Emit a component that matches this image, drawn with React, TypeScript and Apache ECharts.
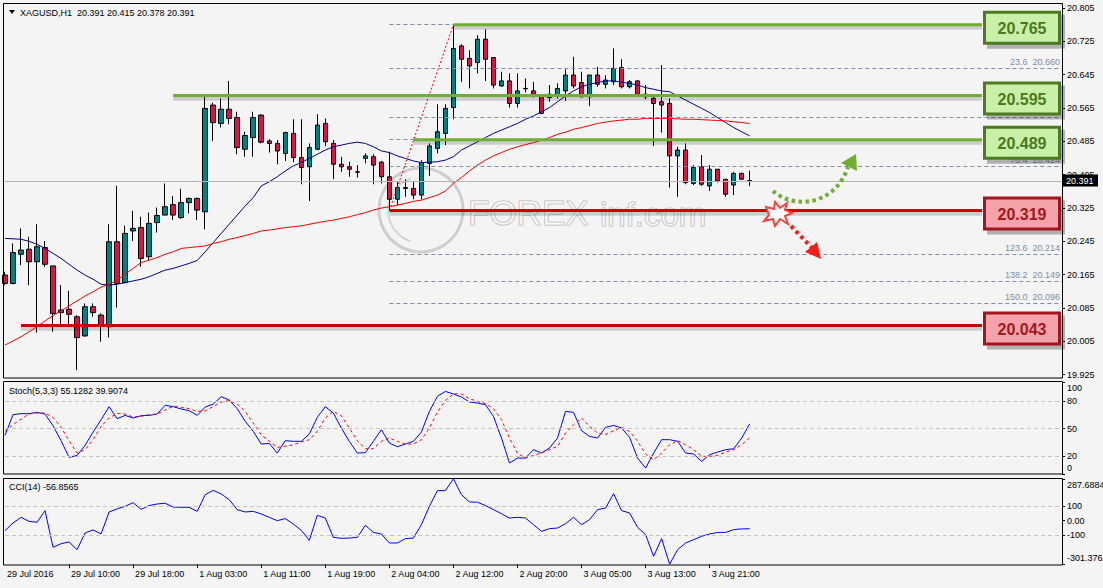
import React, { useEffect, useRef } from "react";
import * as echarts from "echarts";

// ---------- DATA ----------
const SYMBOL = "XAGUSD,H1";
const OPEN = [20.164,20.144,20.214,20.226,20.196,20.230,20.186,20.074,20.082,20.064,20.018,20.088,20.068,20.040,20.244,20.146,20.270,20.278,20.208,20.290,20.308,20.333,20.302,20.338,20.348,20.316,20.572,20.528,20.562,20.542,20.466,20.494,20.548,20.486,20.480,20.456,20.504,20.446,20.424,20.466,20.528,20.480,20.430,20.424,20.412,20.444,20.448,20.435,20.400,20.346,20.372,20.372,20.356,20.432,20.468,20.504,20.566,20.714,20.684,20.674,20.730,20.686,20.618,20.630,20.576,20.612,20.606,20.596,20.590,20.596,20.606,20.644,20.626,20.592,20.644,20.622,20.628,20.662,20.616,20.630,20.598,20.588,20.580,20.576,20.450,20.464,20.384,20.424,20.378,20.418,20.394,20.380,20.408,20.391];
const CLOSE = [20.144,20.218,20.224,20.196,20.232,20.190,20.072,20.080,20.070,20.014,20.088,20.074,20.042,20.244,20.144,20.264,20.276,20.204,20.288,20.307,20.328,20.308,20.338,20.348,20.320,20.564,20.530,20.562,20.540,20.470,20.499,20.542,20.483,20.480,20.462,20.506,20.446,20.422,20.470,20.524,20.484,20.430,20.424,20.418,20.411,20.450,20.428,20.400,20.346,20.374,20.374,20.356,20.434,20.474,20.508,20.564,20.708,20.682,20.666,20.730,20.682,20.620,20.630,20.576,20.606,20.611,20.598,20.552,20.598,20.612,20.644,20.618,20.592,20.644,20.622,20.632,20.660,20.616,20.628,20.598,20.592,20.576,20.572,20.450,20.464,20.386,20.422,20.382,20.418,20.390,20.358,20.408,20.394,20.391];
const LOW = [20.140,20.142,20.188,20.140,20.026,20.184,20.028,20.044,20.040,19.936,20.016,20.064,20.004,20.014,20.086,20.144,20.246,20.184,20.200,20.266,20.308,20.296,20.299,20.312,20.296,20.274,20.486,20.518,20.526,20.454,20.448,20.448,20.480,20.458,20.430,20.438,20.435,20.382,20.342,20.464,20.474,20.394,20.412,20.400,20.398,20.432,20.382,20.384,20.319,20.332,20.352,20.346,20.346,20.402,20.456,20.476,20.538,20.628,20.612,20.648,20.630,20.612,20.616,20.566,20.566,20.602,20.590,20.550,20.580,20.588,20.582,20.612,20.590,20.570,20.616,20.612,20.620,20.612,20.612,20.598,20.586,20.474,20.506,20.374,20.352,20.382,20.380,20.378,20.366,20.386,20.352,20.356,20.394,20.378];
const HIGH = [20.172,20.240,20.276,20.256,20.286,20.246,20.186,20.140,20.126,20.068,20.096,20.096,20.072,20.286,20.378,20.283,20.318,20.304,20.314,20.326,20.384,20.354,20.371,20.350,20.350,20.598,20.578,20.588,20.630,20.556,20.508,20.556,20.550,20.490,20.488,20.508,20.538,20.538,20.480,20.550,20.540,20.488,20.448,20.436,20.428,20.456,20.454,20.438,20.460,20.390,20.394,20.388,20.440,20.480,20.574,20.574,20.765,20.718,20.704,20.740,20.754,20.686,20.652,20.648,20.648,20.636,20.628,20.598,20.620,20.624,20.658,20.688,20.652,20.644,20.664,20.644,20.708,20.682,20.632,20.632,20.620,20.598,20.668,20.588,20.472,20.480,20.428,20.452,20.428,20.418,20.394,20.412,20.410,20.415];
const MA_FAST = [20.252,20.251,20.250,20.245,20.238,20.228,20.216,20.204,20.190,20.176,20.164,20.154,20.142,20.140,20.142,20.146,20.150,20.154,20.160,20.168,20.176,20.180,20.186,20.192,20.199,20.220,20.242,20.264,20.286,20.308,20.330,20.350,20.378,20.388,20.400,20.414,20.426,20.434,20.444,20.454,20.464,20.472,20.476,20.480,20.483,20.480,20.472,20.462,20.458,20.450,20.444,20.438,20.434,20.435,20.436,20.440,20.448,20.464,20.474,20.484,20.494,20.504,20.512,20.520,20.528,20.538,20.546,20.556,20.566,20.580,20.594,20.606,20.616,20.622,20.626,20.630,20.630,20.627,20.624,20.620,20.614,20.610,20.606,20.604,20.594,20.584,20.574,20.564,20.554,20.542,20.530,20.518,20.508,20.498];
const MA_SLOW = [19.996,20.006,20.016,20.028,20.040,20.054,20.067,20.078,20.090,20.102,20.114,20.124,20.135,20.142,20.152,20.166,20.180,20.194,20.200,20.206,20.214,20.220,20.228,20.230,20.232,20.234,20.240,20.244,20.250,20.254,20.259,20.264,20.270,20.272,20.275,20.278,20.280,20.282,20.286,20.290,20.293,20.296,20.300,20.304,20.309,20.314,20.320,20.325,20.328,20.332,20.336,20.341,20.344,20.350,20.356,20.366,20.384,20.398,20.414,20.428,20.440,20.450,20.458,20.466,20.472,20.477,20.482,20.488,20.494,20.502,20.507,20.514,20.518,20.523,20.528,20.531,20.534,20.536,20.538,20.538,20.540,20.540,20.540,20.540,20.539,20.538,20.538,20.537,20.536,20.535,20.534,20.532,20.530,20.528];
const STOCH_MAIN = [42.5,65.1,66.2,66.2,67.6,65.8,53.0,36.7,18.5,20.6,31.6,46.1,59.6,73.8,60.7,64.3,61.4,64.0,64.3,65.8,75.3,73.8,71.3,69.4,64.3,73.4,76.7,84.7,81.1,71.6,57.8,46.9,33.0,33.8,23.2,36.7,36.0,36.0,43.9,62.1,73.8,66.9,50.5,36.0,23.2,23.6,36.0,48.7,34.1,30.1,33.0,36.0,46.1,68.7,85.1,90.5,87.6,84.4,78.9,77.8,76.0,63.2,39.6,12.3,17.7,17.7,26.9,23.2,28.7,39.6,68.7,67.6,47.6,41.4,39.6,51.2,53.4,50.5,40.3,17.7,6.8,23.2,37.8,37.8,36.0,23.2,22.1,14.1,21.4,24.3,26.9,27.9,39.6,55.1282];
const STOCH_SIGNAL = [46.9,54.1,60.3,65.8,66.9,66.9,62.1,51.2,36.7,23.2,26.9,37.8,52.3,61.4,66.5,65.8,62.5,63.2,65.1,65.8,70.2,74.2,73.1,71.6,68.7,69.4,73.8,78.9,80.4,76.7,68.7,56.0,43.2,36.0,29.4,30.5,32.3,35.2,37.8,46.9,61.4,68.7,64.0,50.5,36.7,27.9,27.9,36.0,39.6,36.0,33.0,33.0,37.8,50.5,68.0,80.4,88.0,87.6,82.5,79.6,77.1,71.6,59.6,39.6,22.8,17.7,20.6,23.2,26.9,30.5,45.0,54.1,61.4,52.3,45.0,43.2,47.6,51.2,46.9,36.0,22.1,15.9,23.2,32.3,36.7,32.3,26.9,19.6,19.6,20.6,24.3,26.9,32.3,39.9074];
const CCI = [-70,-17,22,-6,-12,68,-185,-160,-148,-201,-86,-65,-93,59,80,98,123,77,103,114,119,93,91,91,63,178,208,183,144,75,59,63,45,22,-1,13,-24,-68,-137,36,17,-116,-123,-121,-116,-33,-82,-93,-155,-155,-125,-121,-29,98,206,206,287.688,178,128,126,103,75,47,17,22,17,-29,-75,-56,-52,-22,22,-29,6,75,86,185,68,52,-47,-98,-247,-125,-301.376,-201,-155,-132,-109,-93,-82,-82,-63,-58,-56.8565];

const TIME_TICKS = ["29 Jul 2016","29 Jul 10:00","29 Jul 18:00","1 Aug 03:00","1 Aug 11:00","1 Aug 19:00","2 Aug 04:00","2 Aug 12:00","2 Aug 20:00","3 Aug 05:00","3 Aug 13:00","3 Aug 21:00"];
const BARS_PER_TICK = 8;
const SLOTS = 133; // bar slots visible across the chart width
const PRICE_TICKS = [20.805,20.725,20.645,20.565,20.485,20.405,20.325,20.245,20.165,20.085,20.005,19.925];
const PRICE_MIN = 19.917;
const PRICE_MAX = 20.817;
const STOCH_LEVELS = [80, 50, 20];
const STOCH_TICKS = [100, 80, 50, 20, 0];
const CCI_LEVELS = [100, -100];
const CCI_MIN = -301.376;
const CCI_MAX = 287.688;
const CCI_TICKS = [287.688, 100, 0, -100, -301.376];

const LEVEL_PRICES = [20.765, 20.595, 20.489, 20.319, 20.043];
const LEVEL_KIND = ["res", "res", "res", "sup", "sup"];
const LEVEL_START_BAR = [56, 21, 51, 48, 2];
const LEVEL_END_BAR = 122;

const FIB_HIGH = 20.765;
const FIB_LOW = 20.319;
const FIB_HIGH_BAR = 56;
const FIB_LOW_BAR = 48;
const FIB_RATIOS = [0, 23.6, 38.2, 50, 61.8, 76.4, 100, 123.6, 138.2, 150];
// ratios whose labels are hidden behind the level boxes in the reference
const FIB_HIDDEN_LABELS = [0, 38.2, 61.8, 100];

const STOCH_TITLE = "Stoch(5,3,3) 55.1282 39.9074";
const CCI_TITLE = "CCI(14) -56.8565";

// ---------- STYLE ----------
const FONT = '"Liberation Sans", Arial, sans-serif';
const GREEN = "#6fae32";
const RED = "#cc0000";
const FIB_COLOR = "#7f8ea6";
const SHADOW_SHIFT = 0.0075; // price units, ~3px

export default function App() {
  const ref = useRef<HTMLDivElement>(null);

  useEffect(() => {
    const el = ref.current;
    if (!el) return;
    const chart = echarts.init(el, null, { renderer: "svg" });

    const cats = Array.from({ length: SLOTS }, (_, i) => String(i));
    const candles = OPEN.map((o, i) => [o, CLOSE[i], LOW[i], HIGH[i]]);
    const last = OPEN.length - 1;
    const lastClose = CLOSE[last];

    const fibLines = FIB_RATIOS.map((r) => {
      const p = FIB_HIGH - (r / 100) * (FIB_HIGH - FIB_LOW);
      const showLabel = FIB_HIDDEN_LABELS.indexOf(r) < 0;
      return [
        {
          coord: [FIB_LOW_BAR, p],
          lineStyle: { color: FIB_COLOR, type: [4, 3], width: 1 },
          label: {
            show: showLabel,
            position: "insideEndTop",
            formatter: r.toFixed(1) + "  " + p.toFixed(3),
            color: FIB_COLOR,
            fontSize: 9,
            fontFamily: FONT,
            distance: 2,
          },
        },
        { coord: [SLOTS - 1, p] },
      ];
    });

    const gridBase = { left: 5, width: 1057, outerBoundsMode: "none", containLabel: false };
    const hiddenX = (gi: number) => ({
      type: "category",
      gridIndex: gi,
      data: cats,
      boundaryGap: false,
      show: false,
      axisLine: { onZero: false },
    });

    const axisLabelBase = { fontSize: 9, fontFamily: FONT, color: "#000" };

    const levelSeries: any[] = [];
    LEVEL_PRICES.forEach((p, k) => {
      const data = [
        [LEVEL_START_BAR[k], p],
        [LEVEL_END_BAR, p],
      ];
      // soft drop shadow under the level line
      levelSeries.push({
        type: "line",
        xAxisIndex: 0,
        yAxisIndex: 0,
        data: data.map((d) => [d[0], d[1] - SHADOW_SHIFT]),
        symbol: "none",
        silent: true,
        z: 4,
        lineStyle: { color: "rgba(0,0,0,0.16)", width: 4 },
      });
      levelSeries.push({
        type: "line",
        xAxisIndex: 0,
        yAxisIndex: 0,
        data,
        symbol: "none",
        silent: true,
        z: 5,
        lineStyle: { color: LEVEL_KIND[k] === "res" ? GREEN : RED, width: 3 },
      });
    });

    const option: any = {
      animation: false,
      backgroundColor: "#f4f4f4",
      grid: [
        { ...gridBase, top: 3, height: 375 },
        { ...gridBase, top: 382.7, height: 91.6 },
        { ...gridBase, top: 478.8, height: 85.4 },
      ],
      xAxis: [
        hiddenX(0),
        hiddenX(1),
        {
          type: "category",
          gridIndex: 2,
          data: cats,
          boundaryGap: false,
          position: "bottom",
          axisLine: { show: false, onZero: false },
          splitLine: { show: false },
          axisTick: {
            show: true,
            length: 4,
            lineStyle: { color: "#000" },
            interval: (idx: number) => idx > 0 && idx % BARS_PER_TICK === 0 && idx / BARS_PER_TICK < TIME_TICKS.length,
          },
          axisLabel: {
            ...axisLabelBase,
            align: "left",
            margin: 5,
            padding: [0, 0, 0, 2],
            interval: (idx: number) => idx % BARS_PER_TICK === 0 && idx / BARS_PER_TICK < TIME_TICKS.length,
            formatter: (v: string) => TIME_TICKS[Number(v) / BARS_PER_TICK] || "",
          },
        },
      ],
      yAxis: [
        {
          type: "value",
          gridIndex: 0,
          position: "right",
          min: PRICE_MIN,
          max: PRICE_MAX,
          axisLine: { show: false },
          splitLine: { show: false },
          axisTick: { show: true, length: 3, customValues: PRICE_TICKS, lineStyle: { color: "#000" } },
          axisLabel: { ...axisLabelBase, margin: 5, customValues: PRICE_TICKS, formatter: (v: number) => v.toFixed(3) },
        },
        {
          type: "value",
          gridIndex: 1,
          position: "right",
          min: 0,
          max: 100,
          axisLine: { show: false },
          splitLine: { show: false },
          axisTick: { show: true, length: 3, customValues: STOCH_TICKS, lineStyle: { color: "#000" } },
          axisLabel: {
            ...axisLabelBase,
            margin: 5,
            customValues: [94.2, 80, 50, 20, 6.9],
            formatter: (v: number) => (v > 90 ? "100" : v < 10 ? "0" : String(Math.round(v))),
          },
        },
        {
          type: "value",
          gridIndex: 2,
          position: "right",
          min: CCI_MIN,
          max: CCI_MAX,
          axisLine: { show: false },
          splitLine: { show: false },
          axisTick: { show: true, length: 3, customValues: CCI_TICKS, lineStyle: { color: "#000" } },
          axisLabel: {
            ...axisLabelBase,
            margin: 5,
            customValues: [245, 100, 0, -100, -259],
            formatter: (v: number) =>
              v > 200 ? "287.6884" : v < -200 ? "-301.376" : v === 0 ? "0.00" : String(Math.round(v)),
          },
        },
      ],
      series: [
        {
          type: "candlestick",
          xAxisIndex: 0,
          yAxisIndex: 0,
          data: candles,
          barWidth: 5,
          z: 3,
          itemStyle: {
            color: "#008080",
            color0: "#dc143c",
            borderColor: "#000",
            borderColor0: "#000",
            borderWidth: 1,
          },
          markLine: {
            silent: true,
            symbol: ["none", "none"],
            label: { show: false },
            data: [
              { yAxis: lastClose, lineStyle: { color: "#b4b4b4", type: "solid", width: 1 }, label: { show: false } },
              ...fibLines,
              [
                { coord: [FIB_LOW_BAR, FIB_LOW], lineStyle: { color: "#ff0000", type: [2, 2], width: 1 }, label: { show: false } },
                { coord: [FIB_HIGH_BAR, FIB_HIGH] },
              ],
            ],
          },
        },
        {
          type: "line",
          xAxisIndex: 0,
          yAxisIndex: 0,
          data: MA_FAST,
          showSymbol: false,
          symbol: "none",
          z: 4,
          lineStyle: { color: "#000080", width: 1 },
        },
        {
          type: "line",
          xAxisIndex: 0,
          yAxisIndex: 0,
          data: MA_SLOW,
          showSymbol: false,
          symbol: "none",
          z: 4,
          lineStyle: { color: "#ff0000", width: 1 },
        },
        ...levelSeries,
        {
          type: "line",
          xAxisIndex: 1,
          yAxisIndex: 1,
          data: STOCH_MAIN,
          symbol: "none",
          lineStyle: { color: "#0000ff", width: 1 },
          z: 4,
          markLine: {
            silent: true,
            symbol: ["none", "none"],
            label: { show: false },
            lineStyle: { color: "#c4c4c4", type: [4, 3], width: 1 },
            data: STOCH_LEVELS.map((v) => ({ yAxis: v })),
          },
        },
        {
          type: "line",
          xAxisIndex: 1,
          yAxisIndex: 1,
          data: STOCH_SIGNAL,
          symbol: "none",
          z: 4,
          lineStyle: { color: "#ff0000", width: 1, type: [3, 3] },
        },
        {
          type: "line",
          xAxisIndex: 2,
          yAxisIndex: 2,
          data: CCI,
          symbol: "none",
          z: 4,
          lineStyle: { color: "#0000ff", width: 1 },
          markLine: {
            silent: true,
            symbol: ["none", "none"],
            label: { show: false },
            lineStyle: { color: "#c4c4c4", type: [4, 3], width: 1 },
            data: CCI_LEVELS.map((v) => ({ yAxis: v })),
          },
        },
      ],
    };

    chart.setOption(option);

    const py = (p: number) => (chart.convertToPixel({ gridIndex: 0 } as any, [0, p]) as number[])[1];

    const boxes = LEVEL_PRICES.map((p, k) => {
      const res = LEVEL_KIND[k] === "res";
      const y = py(p) - 14;
      return {
        type: "group",
        x: 983,
        y,
        z: 100,
        children: [
          {
            type: "rect",
            z: 99,
            shape: { x: 4, y: 4, width: 78, height: 34 },
            style: { fill: "rgba(0,0,0,0.28)" },
          },
          {
            type: "rect",
            z: 100,
            shape: { x: 1.5, y: 1.5, width: 75, height: 31 },
            style: {
              fill: res ? "#c9efa9" : "#f4a3aa",
              stroke: res ? "#4b7a1f" : "#a3151f",
              lineWidth: 3,
            },
          },
          {
            type: "text",
            z: 101,
            x: 39,
            y: 17.5,
            style: {
              text: p.toFixed(3),
              fontSize: 16,
              fontWeight: "bold",
              fontFamily: FONT,
              fill: res ? "#4a7a1e" : "#a01820",
              align: "center",
              verticalAlign: "middle",
            },
          },
        ],
      };
    });

    const tagY = py(lastClose);
    const frameStyle = { fill: "none", stroke: "#000", lineWidth: 1 };

    const graphic: any[] = [
      // watermark
      {
        type: "circle",
        z: 1,
        shape: { cx: 421, cy: 210, r: 42 },
        style: { fill: "none", stroke: "rgba(190,190,190,0.7)", lineWidth: 3 },
      },
      {
        type: "arc",
        z: 1,
        shape: { cx: 421, cy: 210, r: 33, startAngle: Math.PI * 0.6, endAngle: Math.PI * 1.4 },
        style: { fill: "none", stroke: "rgba(200,200,200,0.7)", lineWidth: 2 },
      },
      {
        type: "text",
        z: 1,
        x: 468,
        y: 212,
        style: {
          text: "FOREX",
          fontSize: 35,
          fontFamily: FONT,
          fill: "rgba(255,255,255,0.55)",
          stroke: "rgba(170,170,170,0.8)",
          lineWidth: 1.2,
          verticalAlign: "middle",
        },
      },
      {
        type: "text",
        z: 1,
        x: 600,
        y: 214,
        style: {
          text: "inf.com",
          fontSize: 33,
          fontFamily: FONT,
          fill: "rgba(255,255,255,0.55)",
          stroke: "rgba(170,170,170,0.8)",
          lineWidth: 1.2,
          verticalAlign: "middle",
        },
      },
      // frames
      { type: "rect", z: 50, shape: { x: 3.5, y: 3.5, width: 1059, height: 374.5 }, style: frameStyle },
      { type: "rect", z: 50, shape: { x: 3.5, y: 381.5, width: 1059, height: 92.5 }, style: frameStyle },
      { type: "rect", z: 50, shape: { x: 3.5, y: 478.5, width: 1059, height: 86.5 }, style: frameStyle },
      // headers
      { type: "polygon", z: 60, shape: { points: [[9, 10], [15, 10], [12, 14]] }, style: { fill: "#000" } },
      {
        type: "text",
        z: 60,
        x: 20,
        y: 12.5,
        style: {
          text: `${SYMBOL}  ${OPEN[last].toFixed(3)} ${HIGH[last].toFixed(3)} ${LOW[last].toFixed(3)} ${CLOSE[last].toFixed(3)}`,
          fontSize: 9,
          fontFamily: FONT,
          fill: "#000",
          verticalAlign: "middle",
        },
      },
      {
        type: "text",
        z: 60,
        x: 9,
        y: 391,
        style: { text: STOCH_TITLE, fontSize: 9, fontFamily: FONT, fill: "#000", verticalAlign: "middle" },
      },
      {
        type: "text",
        z: 60,
        x: 9,
        y: 487,
        style: { text: CCI_TITLE, fontSize: 9, fontFamily: FONT, fill: "#000", verticalAlign: "middle" },
      },
      // current price tag
      {
        type: "rect",
        z: 110,
        shape: { x: 1063, y: tagY - 6, width: 35, height: 12 },
        style: { fill: "#000" },
      },
      {
        type: "text",
        z: 111,
        x: 1066,
        y: tagY,
        style: {
          text: lastClose.toFixed(3),
          fontSize: 9,
          fontFamily: FONT,
          fill: "#fff",
          verticalAlign: "middle",
        },
      },
      // green scenario arrow
      {
        type: "bezierCurve",
        z: 100,
        shape: { x1: 773, y1: 191, cpx1: 795, cpy1: 210, cpx2: 835, cpy2: 205, x2: 848, y2: 167 },
        style: { fill: "none", stroke: GREEN, lineWidth: 4, lineDash: [3.5, 3.5] },
      },
      {
        type: "polygon",
        z: 100,
        shape: { points: [[856, 154], [841, 163], [857, 171]] },
        style: { fill: GREEN },
      },
      // red breakout burst and arrow
      {
        type: "polygon",
        z: 100,
        shape: {
          points: [[766, 207], [774, 209], [775, 202], [780, 208], [787, 203], [785, 210], [792, 213], [785, 216], [788, 224], [780, 219], [775, 226], [773, 219], [764, 221], [769, 215]],
        },
        style: { fill: "#ffffff", stroke: "#ff4040", lineWidth: 2 },
      },
      {
        type: "line",
        z: 100,
        shape: { x1: 791, y1: 226, x2: 813, y2: 249 },
        style: { stroke: "#ff1a1a", lineWidth: 4, lineDash: [3.5, 3.5] },
      },
      {
        type: "polygon",
        z: 100,
        shape: { points: [[821, 259], [805, 252], [817, 242]] },
        style: { fill: "#ff1a1a" },
      },
      ...boxes,
    ];

    chart.setOption({ graphic });

    return () => {
      chart.dispose();
    };
  }, []);

  return (
    <div
      ref={ref}
      style={{ position: "fixed", left: 0, top: 0, width: 1103, height: 588 }}
    />
  );
}
